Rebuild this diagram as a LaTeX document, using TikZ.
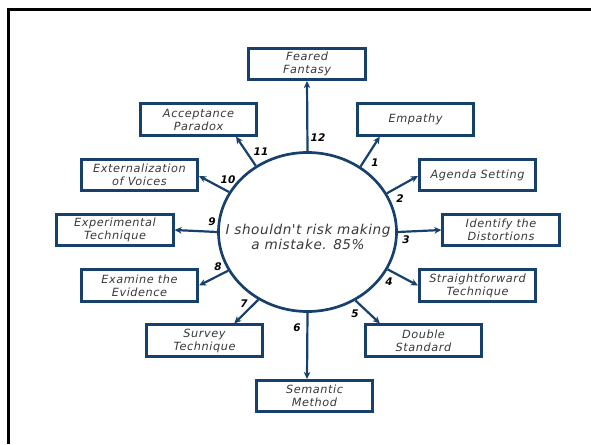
\documentclass[tikz,border=0pt]{standalone}
\usepackage{fontspec}
\setmainfont{DejaVu Sans}
\newfontfamily\boxfont[LetterSpace=5]{DejaVu Sans}
\newfontfamily\midfont[LetterSpace=4]{DejaVu Sans}
\usetikzlibrary{arrows.meta,calc,shapes.geometric}
\definecolor{navy}{HTML}{17406D}
\definecolor{txtgray}{HTML}{383838}
\begin{document}
\begin{tikzpicture}[x=1pt,y=-1pt,
  tbox/.style={draw=navy, line width=2.6pt, minimum width=116.5pt, minimum height=31.5pt,
    inner sep=0pt, align=center, text=txtgray,
    font=\boxfont\itshape\fontsize{11.3}{13}\selectfont},
  link/.style={draw=navy, line width=2.2pt, -{Stealth[length=7pt,width=6.5pt,inset=2pt]}},
  num/.style={font=\bfseries\itshape\fontsize{10.5}{12}\selectfont, text=black, inner sep=0pt},
  frameline/.style={draw=black, line width=3pt}]
\useasboundingbox (0,0) rectangle (591,444);
% frame (partly outside the page)
\coordinate (fbl) at (8,444);
\coordinate (ftl) at (8,10);
\coordinate (ftr) at (591,10);
\draw[frameline] (fbl) -- (ftl) -- (ftr);
% centre
\node[draw=navy, line width=2.7pt, ellipse, minimum width=178pt, minimum height=159pt, inner sep=0pt] (c) at (307.5,232) {};
\node[align=center, text=txtgray, font=\midfont\itshape\fontsize{13.6}{15.5}\selectfont] (ctext) at (308,237) {I shouldn't risk making\\a mistake. 85\%};
% boxes
\node[tbox] (ff)  at (307,64)    {Feared\\Fantasy};
\node[tbox] (emp) at (415.5,119.5) {Empathy};
\node[tbox] (ags) at (477.5,175) {Agenda Setting};
\node[tbox] (idd) at (501,230)   {Identify the\\Distortions};
\node[tbox] (sft) at (477.5,285.5) {Straightforward\\Technique};
\node[tbox] (dbs) at (423.5,340.5) {Double\\Standard};
\node[tbox] (sem) at (314.5,396) {Semantic\\Method};
\node[tbox] (sur) at (204.5,340.5) {Survey\\Technique};
\node[tbox] (exa) at (139.5,285.5) {Examine the\\Evidence};
\node[tbox] (exp) at (115,230)   {Experimental\\Technique};
\node[tbox] (ext) at (139.5,175) {Externalization\\of Voices};
\node[tbox] (acc) at (198.5,119.5) {Acceptance\\Paradox};
% connectors
\draw[link] (c.90) -- (ff.south);
\draw[link] (c.51) -- ($(emp.south west)!0.2!(emp.south east)$);
\draw[link] (c.26) -- ($(ags.west)+(0,1)$);
\draw[link] (c.0) -- (idd.west);
\draw[link] (c.-25.5) -- (sft.west);
\draw[link] (c.-55.6) -- ($(dbs.north west)!0.134!(dbs.north east)$);
\draw[link] (c.-90) -- ($(sem.north west)!0.437!(sem.north east)$);
\draw[link] (c.-126) -- ($(sur.north west)!0.75!(sur.north east)$);
\draw[link] (c.-154) -- (exa.east);
\draw[link] (c.180) -- (exp.east);
\draw[link] (c.153.6) -- ($(ext.east)+(0,1)$);
\draw[link] (c.128) -- ($(acc.south west)!0.815!(acc.south east)$);
% numbers
\node[num] (n12) at (318,138) {12};
\node[num] (n1)  at (375,163) {1};
\node[num] (n2)  at (400,199) {2};
\node[num] (n3)  at (406,240) {3};
\node[num] (n4)  at (389,282) {4};
\node[num] (n5)  at (355,314) {5};
\node[num] (n6)  at (297,328) {6};
\node[num] (n7)  at (244,304) {7};
\node[num] (n8)  at (218,267) {8};
\node[num] (n9)  at (212,222) {9};
\node[num] (n10) at (228,180) {10};
\node[num] (n11) at (261,152) {11};
\end{tikzpicture}
\end{document}
